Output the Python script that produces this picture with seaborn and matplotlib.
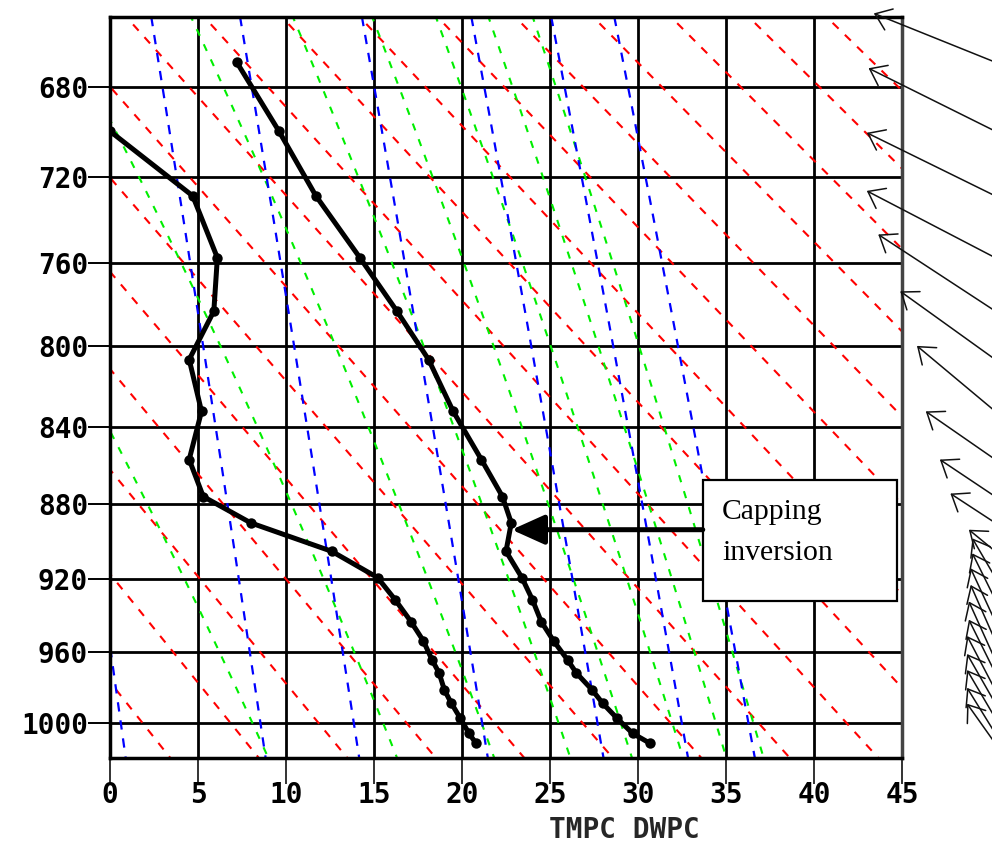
import numpy as np
import pandas as pd
import matplotlib
matplotlib.use("Agg")
import matplotlib.pyplot as plt
import seaborn as sns
from matplotlib.patches import Rectangle

# ---------------- data ----------------
pres = [669.4, 699.6, 728.8, 757.5, 782.9, 806.5, 832.3, 856.8, 876.0, 889.8, 904.9,
        919.0, 931.0, 943.0, 953.6, 964.3, 971.6, 981.2, 988.8, 997.2, 1006.0, 1011.8]
tmpc = [7.2, 9.6, 11.7, 14.2, 16.3, 18.1, 19.5, 21.1, 22.3, 22.8, 22.5,
        23.4, 24.0, 24.5, 25.2, 26.0, 26.5, 27.4, 28.0, 28.8, 29.7, 30.7]
dwpc = [np.nan, 0.0, 4.7, 6.1, 5.9, 4.5, 5.2, 4.5, 5.3, 8.0, 12.6,
        15.2, 16.2, 17.1, 17.8, 18.3, 18.7, 19.0, 19.4, 19.9, 20.4, 20.8]

# wind arrows: tip position (temperature-axis units, hPa); tails sit at each level
wind_tip_t = [43.4, 43.1, 43.0, 43.0, 43.65, 44.9, 45.85, 46.35, 47.15, 47.75, 48.8,
              49.0, 49.0, 48.9, 48.9, 48.8, 48.8, 48.7, 48.7, 48.7, 48.7, 48.7]
wind_tip_p = [648.6, 672.0, 700.3, 726.5, 746.6, 773.4, 799.8, 832.3, 856.8, 874.4, 893.4,
              898.0, 906.0, 914.0, 923.0, 932.0, 942.0, 951.0, 961.0, 970.0, 980.0, 989.0]
wind_tail_t = 50.3

# background reference lines
dry_adiabats_k = [275, 280, 285, 290, 295, 300, 305, 310, 315, 320, 325, 330, 335,
                  340, 345, 350, 355, 360, 365]
moist_adiabats_k = [280, 300, 320, 340, 360, 380, 400, 420, 440]
mixing_ratios_gkg = [4, 7, 10, 16, 24, 32, 40]

x_ticks = [0, 5, 10, 15, 20, 25, 30, 35, 40, 45]
y_ticks = [680, 720, 760, 800, 840, 880, 920, 960, 1000]
x_label = "TMPC DWPC"
note_lines = ["Capping", "inversion"]
note_arrow_tip = (22.82, 893.4)
note_box = (33.68, 867.5, 44.70, 931.8)

KAPPA = 0.286

# ---------------- figure ----------------
sns.set_theme(style="white")
plt.rcParams["font.family"] = ["DejaVu Sans"]

fig = plt.figure(figsize=(9.92, 8.46), dpi=100)
ax = fig.add_axes([110 / 992, 1 - 758.3 / 846, 792 / 992, 741.6 / 846])


def fwd(p):
    p = np.asarray(p, dtype=float)
    return np.sign(p) * np.abs(p) ** KAPPA


def inv(q):
    q = np.asarray(q, dtype=float)
    return np.sign(q) * np.abs(q) ** (1.0 / KAPPA)


ax.set_yscale("function", functions=(fwd, inv))
ax.set_xlim(0, 45)
ax.set_ylim(1020.4, 650.0)

p_grid = np.linspace(630, 1040, 300)

# dry adiabats (red)
for th in dry_adiabats_k:
    t = th * (p_grid / 1000.0) ** KAPPA - 273.15
    ax.plot(t, p_grid, color="#ff0000", lw=1.5, dashes=(4.0, 4.2), zorder=1.5)


def theta_e(tc, p):
    tk = tc + 273.15
    es = 6.112 * np.exp(17.67 * tc / (tc + 243.5))
    r = 622.0 * es / (p - es)
    return tk * (1000.0 / p) ** (0.2854 * (1 - 0.00028 * r)) * \
        np.exp((3.376 / tk - 0.00254) * r * (1 + 0.00081 * r))


t_grid = np.linspace(-60, 60, 2401)
for the in moist_adiabats_k:
    ts = np.array([np.interp(the, theta_e(t_grid, p), t_grid, left=np.nan, right=np.nan)
                   for p in p_grid])
    ax.plot(ts, p_grid, color="#00ee00", lw=1.5, dashes=(3.5, 4.5), zorder=1.6)

# mixing-ratio lines (blue)
for w in mixing_ratios_gkg:
    e = w * p_grid / (622.0 + w)
    le = np.log(e / 6.112)
    td = 243.5 * le / (17.67 - le)
    ax.plot(td, p_grid, color="#0000ff", lw=1.6, dashes=(4.2, 4.0), zorder=1.7)

# profiles
prof = pd.DataFrame({"pres": pres, "tmpc": tmpc, "dwpc": dwpc})
for col in ["tmpc", "dwpc"]:
    sub = prof[["pres", col]].dropna()
    sns.lineplot(data=sub, x=col, y="pres", sort=False, estimator=None, orient="y",
                 color="black", lw=3.6, marker="o", markersize=7.5,
                 markeredgewidth=0, ax=ax, zorder=5)

# grid, ticks, spines
ax.set_xticks(x_ticks)
ax.set_yticks(y_ticks)
ax.yaxis.set_minor_locator(matplotlib.ticker.NullLocator())
ax.xaxis.set_minor_locator(matplotlib.ticker.NullLocator())
ax.set_xticklabels([str(v) for v in x_ticks])
ax.set_yticklabels([str(v) for v in y_ticks])
ax.grid(True, color="black", lw=2.0)
ax.set_axisbelow(True)
for lab in ax.get_xticklabels() + ax.get_yticklabels():
    lab.set_fontfamily("DejaVu Sans Mono")
    lab.set_fontweight("bold")
    lab.set_fontsize(20)
    lab.set_color("black")
ax.tick_params(axis="x", bottom=True, length=18.7, width=1.4, color="#333333", pad=-2)
ax.tick_params(axis="y", left=True, length=15.8, width=1.4, color="black", pad=0)
for s in ax.spines.values():
    s.set_visible(True)
    s.set_color("black")
    s.set_linewidth(2.5)
ax.spines["right"].set_color("#444444")
ax.set_xlabel(x_label, fontdict=dict(family="DejaVu Sans Mono", weight="bold", size=20))
ax.set_ylabel("")
ax.xaxis.set_label_coords(0.650, -(830 - 758.3) / 741.6)
ax.xaxis.label.set_va("center")

# annotation box
x0, p0, x1, p1 = note_box
ax.add_patch(Rectangle((x0, p0), x1 - x0, p1 - p0, facecolor="white",
                       edgecolor="black", lw=1.6, zorder=6))
ax.text(34.77, 888.0, note_lines[0], family="Liberation Serif", fontsize=21.3,
        va="baseline", ha="left", color="black", zorder=7)
ax.text(34.77, 909.3, note_lines[1], family="Liberation Serif", fontsize=21.3,
        va="baseline", ha="left", color="black", zorder=7)
ax.annotate("", xy=note_arrow_tip, xytext=(x0, note_arrow_tip[1]),
            arrowprops=dict(arrowstyle="-|>,head_length=1.0,head_width=0.45",
                            mutation_scale=20, lw=3.6, color="black",
                            shrinkA=0, shrinkB=0), zorder=6)

# wind arrows
for tt, tp, lp in zip(wind_tip_t, wind_tip_p, pres):
    ax.annotate("", xy=(tt, tp), xytext=(wind_tail_t, lp), annotation_clip=False,
                arrowprops=dict(arrowstyle="->,head_length=0.4,head_width=0.3",
                                mutation_scale=27, lw=1.1, color="#111111",
                                shrinkA=0, shrinkB=0))

fig.savefig("out.png", dpi=100)
